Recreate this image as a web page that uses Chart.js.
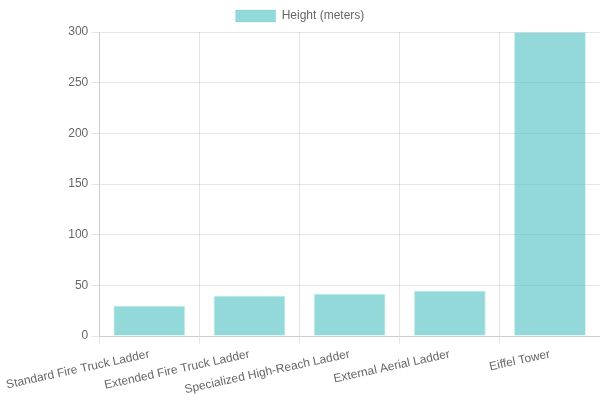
<!DOCTYPE html>
<html>
<head>
<meta charset="utf-8">
<script src="https://cdn.jsdelivr.net/npm/chart.js@4/dist/chart.umd.min.js"></script>
<style>
html,body{margin:0;padding:0;background:#fff;}
#wrap{width:600px;height:400px;position:relative;}
</style>
</head>
<body>
<div id="wrap"><canvas id="c"></canvas></div>
<script>
const categories = ["Standard Fire Truck Ladder", "Extended Fire Truck Ladder", "Specialized High-Reach Ladder", "External Aerial Ladder", "Eiffel Tower"];
const heights = [30, 40, 42, 45, 300];
const seriesLabel = "Height (meters)";

Chart.defaults.font.family = "'Liberation Sans', Arial, sans-serif";
Chart.defaults.color = "#666";

new Chart(document.getElementById('c'), {
  type: 'bar',
  data: {
    labels: categories,
    datasets: [{
      label: seriesLabel,
      data: heights,
      backgroundColor: 'rgba(75, 192, 192, 0.6)',
      borderColor: 'rgba(75, 192, 192, 0.2)',
      borderWidth: 1
    }]
  },
  options: {
    responsive: true,
    maintainAspectRatio: false,
    animation: false,
    plugins: {
      legend: { position: 'top' }
    },
    scales: {
      y: { beginAtZero: true }
    }
  }
});
</script>
</body>
</html>
